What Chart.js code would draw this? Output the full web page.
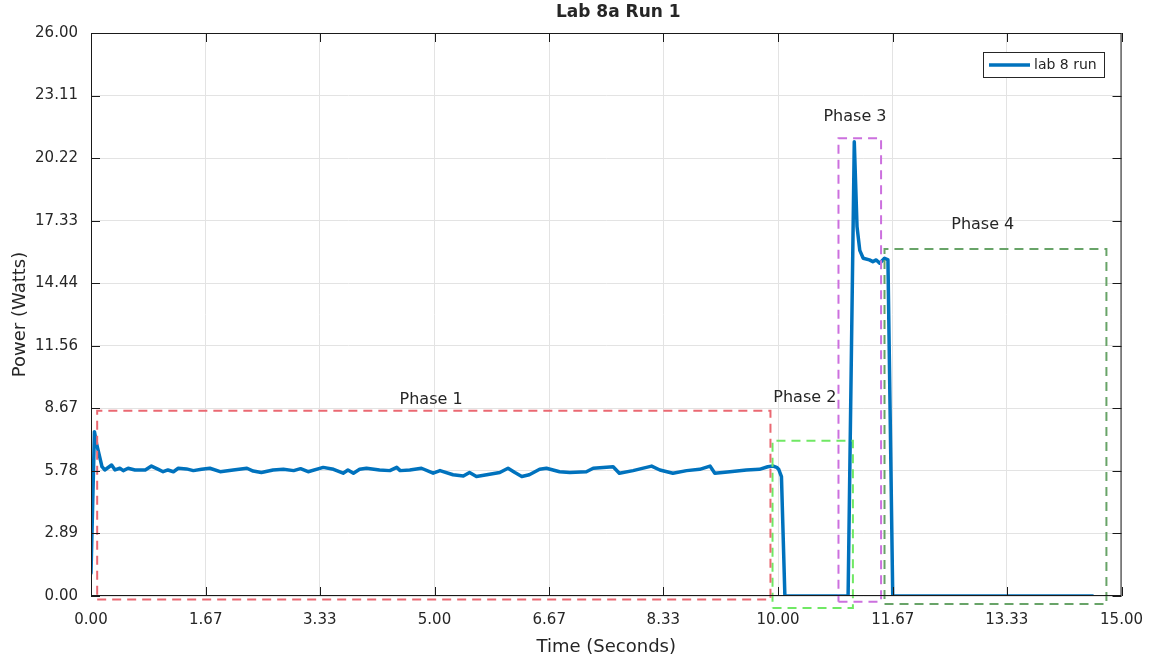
<!DOCTYPE html>
<html>
<head>
<meta charset="utf-8">
<title>Lab 8a Run 1</title>
<script src="https://cdn.jsdelivr.net/npm/chart.js@4.4.1/dist/chart.umd.min.js"></script>
<style>
  html, body { margin: 0; padding: 0; background: #fff; }
  #wrap { width: 1158px; height: 661px; }
</style>
</head>
<body>
<div id="wrap"><canvas id="myChart" width="1158" height="661"></canvas></div>
<script>
// measured run (seconds / watts)
const timeS = [0.00, 0.05, 0.08, 0.16, 0.20, 0.30, 0.35, 0.42, 0.47, 0.54, 0.64, 0.79, 0.88, 0.98, 1.05, 1.12, 1.20, 1.27, 1.39, 1.49,
  1.61, 1.73, 1.88, 2.07, 2.27, 2.36, 2.48, 2.65, 2.80, 2.95, 3.05, 3.16, 3.38, 3.53, 3.67, 3.74, 3.82, 3.91, 4.01, 4.20,
  4.35, 4.45, 4.50, 4.64, 4.81, 4.98, 5.08, 5.27, 5.42, 5.51, 5.61, 5.76, 5.95, 6.07, 6.17, 6.27, 6.38, 6.53, 6.63, 6.82,
  6.97, 7.21, 7.31, 7.60, 7.69, 7.89, 8.16, 8.28, 8.47, 8.67, 8.86, 9.01, 9.08, 9.30, 9.54, 9.73, 9.85, 9.93, 9.98, 10.01,
  10.05, 10.10, 11.02, 11.11, 11.15, 11.19, 11.24, 11.33, 11.38, 11.43, 11.48, 11.55, 11.60, 11.67, 14.58];
const powerW = [1.05, 7.59, 7.05, 5.97, 5.82, 6.05, 5.82, 5.90, 5.79, 5.90, 5.82, 5.82, 6.00, 5.85, 5.74, 5.82, 5.74, 5.90, 5.87, 5.79,
  5.85, 5.90, 5.74, 5.82, 5.90, 5.77, 5.70, 5.82, 5.85, 5.79, 5.88, 5.74, 5.94, 5.85, 5.67, 5.82, 5.67, 5.85, 5.90, 5.82,
  5.79, 5.94, 5.79, 5.82, 5.90, 5.67, 5.79, 5.60, 5.54, 5.70, 5.52, 5.60, 5.70, 5.90, 5.70, 5.52, 5.60, 5.85, 5.90, 5.74,
  5.70, 5.74, 5.90, 5.97, 5.67, 5.79, 6.00, 5.82, 5.67, 5.79, 5.85, 6.00, 5.67, 5.74, 5.82, 5.85, 5.97, 6.00, 5.94, 5.85,
  5.51, 0, 0, 20.98, 17.06, 15.96, 15.60, 15.52, 15.44, 15.52, 15.37, 15.60, 15.52, 0, 0];

const xTickLabels = ['0.00', '1.67', '3.33', '5.00', '6.67', '8.33', '10.00', '11.67', '13.33', '15.00'];
const yTickLabels = ['0.00', '2.89', '5.78', '8.67', '11.56', '14.44', '17.33', '20.22', '23.11', '26.00'];

// phase boxes drawn on the plot (data units)
const phaseNames  = ['Phase 1', 'Phase 2', 'Phase 3', 'Phase 4'];
const phaseLeft   = [0.09, 9.92, 10.88, 11.55];
const phaseRight  = [9.89, 11.09, 11.50, 14.78];
const phaseTop    = [8.55, 7.17, 21.14, 16.03];
const phaseBottom = [-0.16, -0.55, -0.26, -0.37];
const phaseLabelX = [4.95, 10.39, 11.12, 12.98];
const phaseLabelY = [9.05, 9.13, 22.14, 17.14];
const phaseColors = ['rgb(234,104,114)', 'rgb(112,232,100)', 'rgb(204,112,222)', 'rgb(104,164,104)'];

const FONT = "'DejaVu Sans', sans-serif";
const TXT = '#262626';

let points = timeS.map(function(t, i){ return {x: t, y: powerW[i]}; });

let datasets = [{
  label: 'lab 8 run',
  data: points,
  borderColor: '#0072bd',
  backgroundColor: '#0072bd',
  borderWidth: 3.5,
  borderJoinStyle: 'round',
  borderCapStyle: 'round',
  pointRadius: 0,
  tension: 0,
  order: 2
}];
phaseNames.forEach(function(name, i){
  datasets.push({
    label: name,
    data: [
      {x: phaseLeft[i], y: phaseBottom[i]}, {x: phaseRight[i], y: phaseBottom[i]},
      {x: phaseRight[i], y: phaseTop[i]}, {x: phaseLeft[i], y: phaseTop[i]},
      {x: phaseLeft[i], y: phaseBottom[i]}
    ],
    borderColor: phaseColors[i],
    borderWidth: 2,
    borderDash: [9, 6],
    pointRadius: 0,
    tension: 0,
    clip: false,
    order: 1
  });
});

// title, axis titles, frame with inner ticks, phase labels, legend box
const decor = {
  id: 'decor',
  afterDatasetsDraw: function(chart){
    const ctx = chart.ctx;
    const a = chart.chartArea;
    const xs = chart.scales.x, ys = chart.scales.y;
    ctx.save();
    // phase labels
    ctx.fillStyle = TXT;
    ctx.font = '16px ' + FONT;
    ctx.textAlign = 'center';
    ctx.textBaseline = 'middle';
    phaseNames.forEach(function(name, i){
      ctx.fillText(name, xs.getPixelForValue(phaseLabelX[i]), ys.getPixelForValue(phaseLabelY[i]));
    });
    // frame
    ctx.strokeStyle = '#1a1a1a';
    ctx.lineWidth = 1;
    ctx.strokeRect(a.left + 0.5, a.top + 0.5, a.right - a.left - 1, a.bottom - a.top - 1);
    ctx.beginPath();
    xTickLabels.forEach(function(l){
      const px = Math.round(xs.getPixelForValue(parseFloat(l))) + 0.5;
      ctx.moveTo(px, a.bottom); ctx.lineTo(px, a.bottom - 9);
      ctx.moveTo(px, a.top); ctx.lineTo(px, a.top + 9);
    });
    yTickLabels.forEach(function(l){
      const py = Math.round(ys.getPixelForValue(parseFloat(l))) + 0.5;
      ctx.moveTo(a.left, py); ctx.lineTo(a.left + 9, py);
      ctx.moveTo(a.right, py); ctx.lineTo(a.right - 9, py);
    });
    ctx.stroke();
    // legend
    ctx.fillStyle = '#fff';
    ctx.fillRect(983, 52, 121, 25);
    ctx.strokeStyle = TXT;
    ctx.strokeRect(983.5, 52.5, 121, 25);
    ctx.strokeStyle = '#0072bd';
    ctx.lineWidth = 3.5;
    ctx.beginPath();
    ctx.moveTo(989, 65); ctx.lineTo(1030, 65);
    ctx.stroke();
    ctx.fillStyle = TXT;
    ctx.font = '14px ' + FONT;
    ctx.textAlign = 'left';
    ctx.fillText(chart.data.datasets[0].label, 1034, 65);
    // titles
    const cx = (a.left + a.right) / 2;
    ctx.textAlign = 'center';
    ctx.font = 'bold 17px ' + FONT;
    ctx.fillText('Lab 8a Run 1', cx + 12, 13);
    ctx.font = '18px ' + FONT;
    ctx.fillText('Time (Seconds)', cx, 647);
    ctx.translate(20, (a.top + a.bottom) / 2);
    ctx.rotate(-Math.PI / 2);
    ctx.fillText('Power (Watts)', 0, 0);
    ctx.restore();
  }
};

let ctx = document.getElementById('myChart');
let myChart = new Chart(ctx, {
  type: 'line',
  data: { datasets: datasets },
  options: {
    responsive: false,
    animation: false,
    layout: { padding: { top: 33, right: 36, left: 0, bottom: 0 } },
    plugins: {
      legend: { display: false },
      title: { display: false },
      tooltip: { enabled: false }
    },
    scales: {
      x: {
        type: 'linear',
        min: 0,
        max: 15,
        afterFit: function(scale){ scale.height = 65; },
        afterBuildTicks: function(scale){
          scale.ticks = xTickLabels.map(function(l){ return {value: parseFloat(l)}; });
        },
        ticks: {
          padding: 15,
          color: TXT,
          font: { family: FONT, size: 15 },
          maxRotation: 0,
          autoSkip: false,
          callback: function(v, i){ return xTickLabels[i]; }
        },
        grid: { color: '#e3e3e3', drawTicks: false },
        border: { display: false }
      },
      y: {
        type: 'linear',
        min: 0,
        max: 26,
        afterFit: function(scale){ scale.width = 91; },
        afterBuildTicks: function(scale){
          scale.ticks = yTickLabels.map(function(l){ return {value: parseFloat(l)}; });
        },
        ticks: {
          padding: 13,
          color: TXT,
          font: { family: FONT, size: 15 },
          autoSkip: false,
          callback: function(v, i){ return yTickLabels[i]; }
        },
        grid: { color: '#e3e3e3', drawTicks: false },
        border: { display: false }
      }
    }
  },
  plugins: [decor]
});
</script>
</body>
</html>
